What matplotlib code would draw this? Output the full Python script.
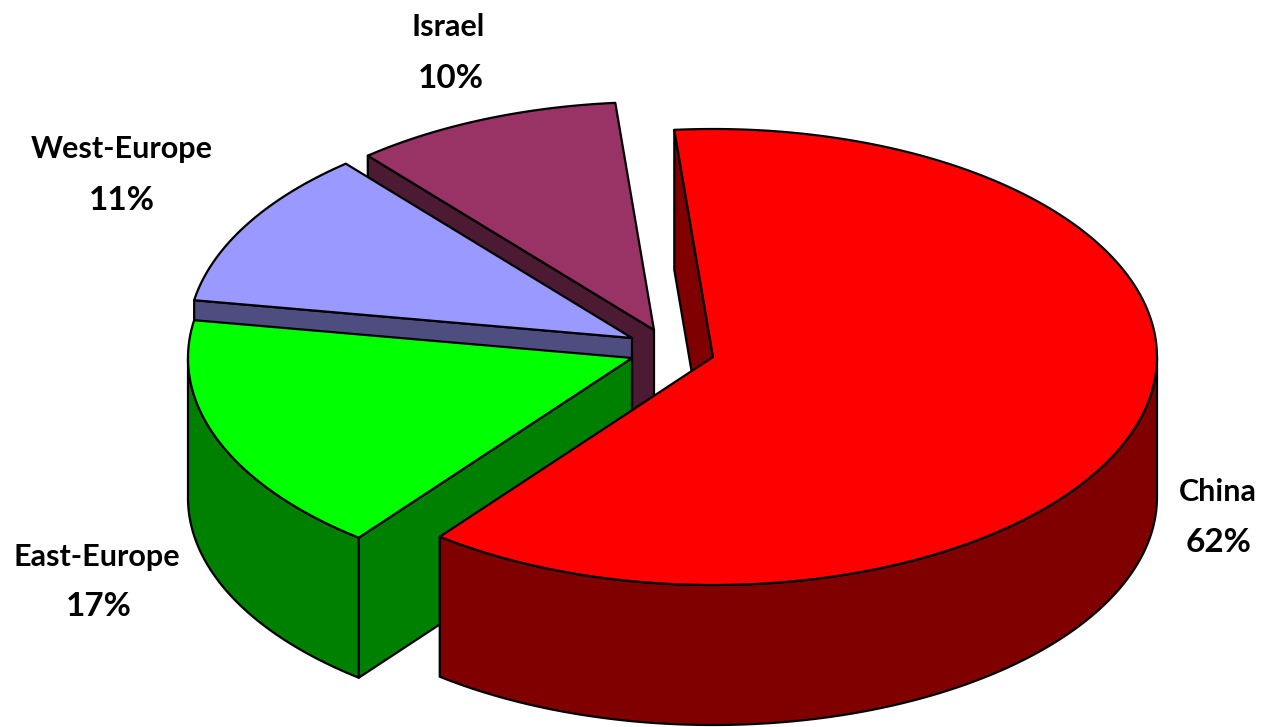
import numpy as np
import matplotlib
matplotlib.use("Agg")
import matplotlib.pyplot as plt
from matplotlib.patches import Polygon

# Data (clockwise from the start angle, as in the original pie)
categories = ["China", "East-Europe", "West-Europe", "Israel"]
shares = [61.94, 17.1, 11.2, 9.76]
percent_labels = ["62%", "17%", "11%", "10%"]

# Styling and layout
top_colors = ["#FF0000", "#00FF00", "#9999FF", "#993366"]
side_colors = ["#800000", "#008000", "#4D4D80", "#4D1A33"]
centers = [(713, 357), (632, 358), (632, 338), (654, 330)]
name_pos = [(1218, 492), (97, 557), (122, 149), (448, 27)]
pct_pos = [(1219, 543), (99, 607), (122, 200), (451, 78)]
RX, RY, DEPTH = 444, 228, 140
START = 95.0

fig = plt.figure(figsize=(12.62, 7.27), dpi=100)
ax = fig.add_axes([0, 0, 1, 1])
ax.set_xlim(0, 1262)
ax.set_ylim(727, 0)
ax.axis("off")


def pt(c, deg, dz=0):
    r = np.radians(deg)
    return c[0] + RX * np.cos(r), c[1] - RY * np.sin(r) + dz


def poly(points, color, z):
    ax.add_patch(Polygon(points, closed=True, facecolor=color, edgecolor="black",
                         linewidth=1.6, joinstyle="round", zorder=z))


# angular spans
edges = START - 360 * np.cumsum([0] + shares) / sum(shares)
spans = list(zip(edges[:-1], edges[1:]))

# painter's order: back slices first
for z, i in enumerate([3, 2, 1, 0]):
    a0, a1 = spans[i]
    c = centers[i]
    base = 10 * z
    angs = np.linspace(a0, a1, 240)
    # the flat wall on the leading edge is the only one seen from this viewpoint
    p = pt(c, a0)
    poly([c, p, (p[0], p[1] + DEPTH), (c[0], c[1] + DEPTH)], side_colors[i], base + 1)
    # outer curved wall (front half only)
    s = np.sin(np.radians(angs))
    front = angs[s < 0]
    if len(front):
        top = [pt(c, a) for a in front]
        bot = [pt(c, a, DEPTH) for a in front[::-1]]
        poly(top + bot, side_colors[i], base + 2)
    # top face
    poly([c] + [pt(c, a) for a in angs], top_colors[i], base + 3)

for name, pct, np_, pp in zip(categories, percent_labels, name_pos, pct_pos):
    ax.text(np_[0], np_[1], name, ha="center", va="center", fontsize=22,
            family="Lato", fontweight="bold", color="black", zorder=100)
    ax.text(pp[0], pp[1], pct, ha="center", va="center", fontsize=24,
            family="Lato", fontweight="bold", color="black", zorder=100)

fig.savefig("out.png", dpi=100)
